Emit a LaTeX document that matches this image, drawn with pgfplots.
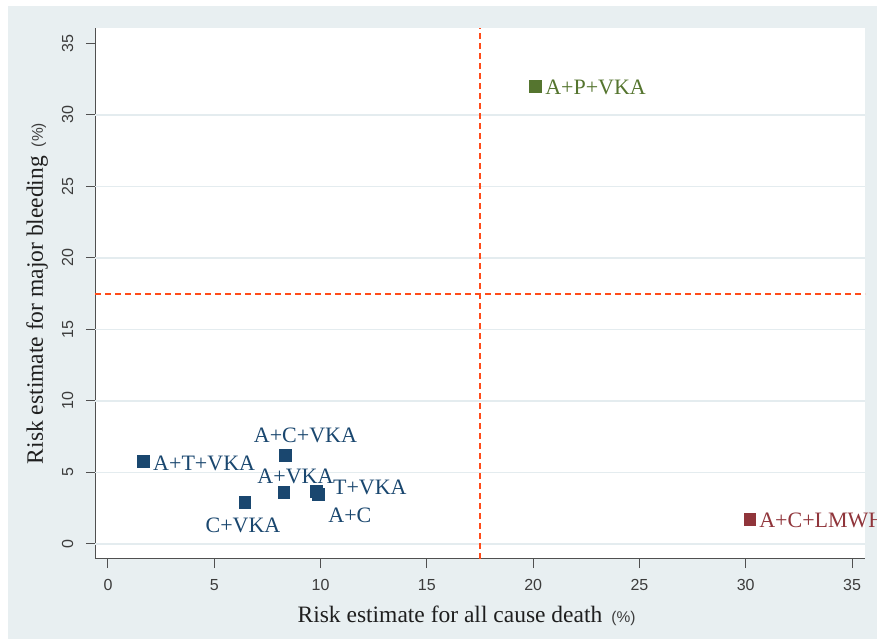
\documentclass[border=0pt]{standalone}
\usepackage{fontspec}
\setmainfont{Liberation Serif}
\setsansfont{Liberation Sans}
\usepackage{pgfplots}
\pgfplotsset{compat=1.18}
\definecolor{bgblue}{RGB}{232,239,241}
\definecolor{gridc}{RGB}{228,236,239}
\definecolor{snavy}{RGB}{26,71,111}
\definecolor{sgreen}{RGB}{85,117,47}
\definecolor{smaroon}{RGB}{144,53,59}
\definecolor{refc}{RGB}{255,75,25}
\definecolor{axc}{RGB}{80,80,80}
\definecolor{tickc}{RGB}{60,60,60}
\begin{document}
\begin{tikzpicture}[x=1pt,y=1pt]
\useasboundingbox (0,0) rectangle (877,639);
\fill[white] (0,0) rectangle (877,639);
\fill[bgblue] (8,0) rectangle (877,633);
\begin{axis}[
  at={(95pt,80pt)}, anchor=south west,
  scale only axis, width=770pt, height=531pt,
  xmin=-0.61, xmax=35.61, ymin=-1.05, ymax=36.08,
  axis x line*=bottom, axis y line*=left,
  axis line style={axc, line width=1pt},
  axis background/.style={fill=white},
  clip=false,
  xtick={0,5,...,35}, ytick={0,5,...,35},
  tick align=outside, major tick length=9pt,
  tick style={axc, line width=1pt},
  /pgf/number format/assume math mode=true,
  ticklabel style={font=\sffamily\fontsize{16}{18}\selectfont, text=tickc, inner sep=0pt},
  xticklabel style={anchor=north},
  yticklabel style={rotate=90, anchor=south},
  xticklabel shift=11.5pt, yticklabel shift=12.5pt,
  extra y ticks={0,5,...,30},
  extra y tick labels={},
  extra y tick style={grid=major, major grid style={gridc, line width=1.6pt}, major tick length=0pt},
  xlabel={Risk estimate for all cause death\hspace{9pt}{\sffamily\fontsize{15.5}{18}\selectfont\color{tickc}(\%)}},
  xlabel style={font=\fontsize{23.5}{28}\selectfont, text=black!88, inner sep=0pt,
    at={([yshift=-63.7pt]axis description cs:0.4825,0)}, anchor=base},
  ylabel={Risk estimate for major bleeding\hspace{9pt}{\sffamily\fontsize{15.5}{18}\selectfont\color{tickc}(\%)}},
  ylabel style={font=\fontsize{23.5}{28}\selectfont, text=black!88, inner sep=0pt,
    at={([xshift=-52pt]axis description cs:0,0.5)}, anchor=base},
]
\addplot[refc, line width=1.9pt, dash pattern=on 6pt off 4pt] coordinates {(17.5,-1.05) (17.5,36.08)};
\addplot[refc, line width=1.9pt, dash pattern=on 6pt off 4pt] coordinates {(-0.61,17.5) (35.61,17.5)};
\addplot[only marks, mark=square*, mark size=5.8pt, color=snavy] coordinates {
(1.65,5.77) (8.33,6.22) (8.26,3.6) (9.8,3.7) (9.9,3.5) (6.44,2.94)};
\addplot[only marks, mark=square*, mark size=5.8pt, color=sgreen] coordinates {(20.09,32.0)};
\addplot[only marks, mark=square*, mark size=5.8pt, color=smaroon] coordinates {(30.18,1.75)};
\begin{scope}[every node/.style={font=\fontsize{22}{26}\selectfont, inner sep=0pt}]
\node[text=snavy, anchor=west] at (axis cs:2.12,5.66) {A+T+VKA};
\node[text=snavy] at (axis cs:9.29,7.62) {A+C+VKA};
\node[text=snavy] at (axis cs:8.82,4.76) {A+VKA};
\node[text=snavy, anchor=west] at (axis cs:10.58,3.99) {T+VKA};
\node[text=snavy] at (axis cs:11.38,1.99) {A+C};
\node[text=snavy] at (axis cs:6.35,1.29) {C+VKA};
\node[text=sgreen, anchor=west] at (axis cs:20.56,31.96) {A+P+VKA};
\node[text=smaroon, anchor=west] at (axis cs:30.63,1.63) {A+C+LMWH};
\end{scope}
\end{axis}
\end{tikzpicture}
\end{document}
